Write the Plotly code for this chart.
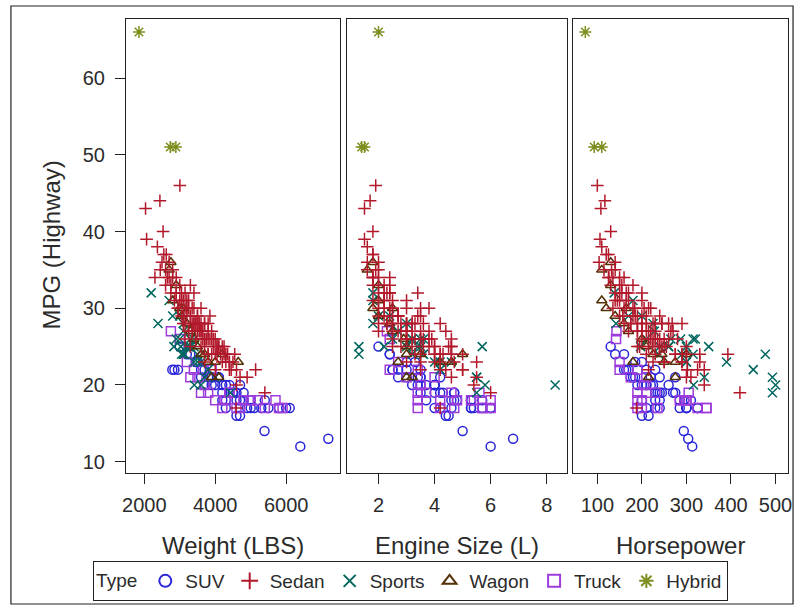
import plotly.graph_objects as go

# ---------------- data ----------------
types = ["SUV", "Sedan", "Sports", "Wagon", "Truck", "Hybrid"]

wt_suv = [3000, 3200, 2790, 2850, 2950, 3300, 3450, 3500, 3600, 3700, 3800, 3900, 3900, 4000, 4100, 4200, 4300,
          4400, 4500, 4300, 4600, 4700, 4800, 4600, 4700, 4900, 5000, 5100, 5300, 5400, 5500, 5800, 6000, 6100,
          5390, 7190, 6400, 4500, 4200, 4100, 3700, 4300, 4200, 4600, 3900, 4800, 5000, 4400, 3600, 4700]
eng_suv = [2.0, 2.4, 2.5, 2.5, 2.7, 2.4, 3.0, 3.3, 3.0, 3.5, 3.5, 3.5, 4.0, 3.2, 4.2, 4.0, 3.7,
           4.0, 4.7, 4.7, 4.6, 4.8, 5.3, 4.5, 4.4, 4.2, 4.6, 5.3, 5.4, 5.3, 5.7, 5.3, 6.0, 6.0,
           5.0, 6.8, 6.0, 4.2, 3.5, 3.4, 3.4, 4.0, 3.7, 4.3, 3.0, 4.7, 5.7, 3.5, 2.7, 4.0]
hp_suv = [130, 140, 160, 165, 170, 160, 185, 200, 210, 230, 220, 240, 200, 220, 275, 210, 210,
          245, 235, 230, 240, 285, 295, 200, 215, 230, 240, 285, 300, 295, 325, 300, 325, 300,
          294, 304, 313, 275, 240, 185, 190, 210, 200, 270, 175, 230, 310, 260, 180, 225]
mpg_suv = [25, 24, 22, 22, 22, 24, 23, 23, 22, 22, 21, 21, 20, 20, 21, 20, 20,
           19, 19, 18, 18, 18, 18, 16, 16, 17, 17, 17, 17, 18, 17, 17, 17, 17,
           14, 13, 12, 19, 19, 21, 20, 17, 18, 19, 21, 19, 18, 20, 21, 20]

wt_sedan = [3003, 2035, 2440, 2530, 2065, 2370, 2620, 2500, 2600, 2700, 2650, 2450, 2750, 2800, 2900, 2850,
            3000, 3050, 2950, 3100, 3150, 3200, 3250, 3200, 3300, 3350, 3400, 3400, 3450, 3500, 3550, 3600,
            3600, 3650, 3700, 3750, 3800, 3800, 3850, 3900, 3950, 4000, 4050, 4100, 4150, 4200, 4250, 4300,
            4350, 4400, 4450, 4500, 4600, 4700, 5140, 5400, 4590, 4000, 3600, 3700, 3100, 3150, 3250, 3350,
            3450, 3500, 3550, 3000, 2900, 2800, 3250, 3650, 3300, 3700, 3800, 3900, 3950, 4050, 4100, 3400,
            3500, 3200, 3300, 2950, 3100, 3350, 3600, 3700, 3800, 4300, 4400, 4000, 3600, 3250, 3150, 4550,
            4900, 4600, 2300, 2600, 2750, 3050, 3400, 3750, 4200, 3850,
            2550, 2700, 2900, 3150, 3300, 3450, 3550, 3700, 3900, 4050, 4250, 4400, 3050, 3350, 3500, 3800]
eng_sedan = [1.9, 1.5, 1.7, 1.8, 1.5, 1.6, 1.8, 1.6, 2.0, 2.0, 1.8, 1.6, 2.0, 2.4, 2.0, 2.2,
             2.4, 2.2, 2.0, 2.5, 2.4, 2.5, 3.0, 2.7, 2.4, 3.0, 3.4, 3.5, 3.0, 3.5, 3.3, 3.8,
             2.8, 3.0, 3.2, 3.5, 4.2, 3.8, 3.0, 4.4, 3.2, 4.6, 3.6, 4.0, 4.3, 4.5, 4.6, 5.0,
             4.2, 4.7, 5.0, 5.5, 4.2, 4.6, 5.0, 6.0, 4.2, 4.2, 3.0, 3.2, 2.0, 2.3, 2.5, 2.7,
             3.0, 3.2, 2.5, 2.0, 1.8, 1.9, 2.2, 3.5, 2.8, 4.0, 3.5, 3.3, 3.8, 4.0, 4.6, 2.0,
             2.2, 1.8, 1.8, 2.5, 2.3, 3.0, 3.5, 3.0, 4.6, 3.5, 4.4, 3.5, 2.5, 2.0, 2.5, 4.6,
             5.5, 5.4, 1.8, 2.2, 2.4, 2.7, 3.6, 3.9, 4.0, 3.4,
             1.8, 2.0, 2.3, 2.4, 2.7, 2.5, 3.0, 3.3, 3.6, 3.8, 4.0, 4.2, 2.2, 2.8, 3.0, 3.2]
hp_sedan = [100, 108, 117, 130, 106, 110, 120, 104, 132, 140, 126, 115, 130, 160, 140, 140,
            150, 155, 135, 165, 170, 180, 200, 185, 157, 220, 200, 215, 225, 240, 230, 205,
            190, 210, 245, 250, 260, 200, 225, 270, 215, 280, 255, 240, 290, 300, 239, 300,
            330, 290, 302, 330, 340, 300, 302, 420, 188, 393, 268, 290, 150, 160, 170, 190,
            200, 220, 175, 145, 150, 140, 165, 230, 195, 245, 210, 230, 260, 275, 224, 200,
            210, 170, 180, 184, 200, 230, 265, 225, 300, 250, 325, 215, 190, 215, 215, 290,
            310, 340, 125, 155, 165, 190, 245, 235, 250, 200,
            125, 135, 150, 160, 180, 175, 200, 220, 240, 250, 275, 290, 150, 190, 210, 230]
mpg_sedan = [46, 43, 44, 40, 39, 38, 37, 36, 35, 36, 34, 35, 33, 34, 32, 31,
             33, 32, 30, 31, 32, 30, 31, 29, 29, 30, 32, 30, 28, 29, 28, 30,
             27, 27, 28, 26, 28, 27, 26, 27, 25, 26, 25, 25, 24, 25, 25, 24,
             24, 23, 22, 23, 22, 21, 22, 19, 17, 24, 28, 28, 29, 28, 27, 27,
             26, 27, 28, 31, 34, 35, 30, 26, 25, 25, 24, 24, 26, 24, 25, 28,
             29, 31, 33, 30, 28, 27, 27, 23, 24, 23, 22, 22, 25, 27, 26, 24,
             21, 20, 34, 33, 32, 29, 28, 26, 23, 29,
             37, 34, 32, 30, 29, 28, 27, 26, 26, 25, 24, 23, 31, 28, 28, 26]

wt_sports = [2195, 2387, 2700, 2835, 3029, 3053, 3246, 3410, 3131, 3400, 3100, 3000, 3300, 3400, 3500,
             3600, 3800, 4429, 4000, 3500, 3100, 2800, 3000, 3300, 3200, 3600, 3700, 2900, 3100, 3400, 3300]
eng_sports = [1.8, 1.8, 1.8, 2.2, 1.3, 1.3, 5.7, 8.3, 3.6, 3.2, 2.7, 3.2, 3.5, 3.5, 3.6,
              4.2, 4.2, 5.5, 5.5, 4.6, 3.0, 2.0, 2.4, 3.0, 3.4, 5.8, 5.5, 2.5, 3.2, 4.0, 3.6]
hp_sports = [138, 142, 180, 240, 197, 238, 350, 500, 477, 265, 228, 315, 287, 300, 315,
             390, 450, 493, 493, 300, 225, 200, 170, 260, 260, 316, 340, 210, 290, 300, 320]
mpg_sports = [32, 28, 31, 25, 25, 24, 25, 20, 24, 26, 27, 26, 26, 25, 24,
              23, 22, 19, 21, 23, 28, 29, 29, 25, 25, 20, 21, 26, 24, 23, 26]

wt_wagon = [2700, 2750, 2800, 2900, 3000, 3050, 3100, 3200, 3300, 3400, 3500, 3600, 3700, 3800, 4000,
            4200, 4650, 3900, 4100]
eng_wagon = [1.6, 1.8, 2.0, 2.0, 1.8, 2.0, 2.5, 2.4, 2.5, 2.9, 3.0, 3.0, 3.5, 2.7, 4.2,
             5.0, 4.6, 3.2, 3.0]
hp_wagon = [110, 130, 110, 130, 120, 140, 165, 160, 170, 200, 210, 225, 245, 180, 250,
            300, 275, 215, 275]
mpg_wagon = [35, 36, 31, 33, 30, 29, 30, 28, 27, 26, 25, 24, 24, 23, 23,
             24, 23, 21, 21]

wt_truck = [2750, 3000, 3200, 3500, 3600, 3700, 3800, 4000, 4200, 4300, 4400, 4600, 4800, 5000, 5200,
            5400, 5700, 5900, 4700, 3900, 4400, 5800, 3300, 3400]
eng_truck = [2.3, 2.4, 2.7, 3.0, 3.4, 3.5, 3.7, 3.4, 3.4, 4.2, 4.6, 4.7, 4.8, 5.4, 5.3,
             5.7, 6.0, 6.0, 4.2, 3.4, 5.6, 5.7, 4.0, 2.4]
hp_truck = [143, 142, 150, 175, 190, 205, 210, 190, 190, 200, 230, 235, 285, 300, 295,
            345, 300, 325, 200, 190, 305, 345, 210, 150]
mpg_truck = [27, 26, 23, 21, 19, 20, 19, 18, 17, 18, 19, 17, 18, 18, 18,
             17, 18, 17, 17, 22, 19, 17, 21, 22]

wt_hybrid = [1850, 2732, 2890]
eng_hybrid = [2.0, 1.4, 1.5]
hp_hybrid = [73, 93, 110]
mpg_hybrid = [66, 51, 51]

x_titles = ["Weight (LBS)", "Engine Size (L)", "Horsepower"]
y_title = "MPG (Highway)"
x_ticks = [[2000, 4000, 6000], [2, 4, 6, 8], [100, 200, 300, 400, 500]]
y_ticks = [10, 20, 30, 40, 50, 60]

# ---------------- styling ----------------
W, H = 802, 608
FONT = "Liberation Sans, Arial, sans-serif"
TXT = "#2b2b2b"

series = {
    "SUV":    (wt_suv, eng_suv, hp_suv, mpg_suv, "circle-open", "#2A25D9"),
    "Sedan":  (wt_sedan, eng_sedan, hp_sedan, mpg_sedan, "cross-thin-open", "#B2182B"),
    "Sports": (wt_sports, eng_sports, hp_sports, mpg_sports, "x-thin-open", "#01665E"),
    "Wagon":  (wt_wagon, eng_wagon, hp_wagon, mpg_wagon, "triangle-up-open", "#543005"),
    "Truck":  (wt_truck, eng_truck, hp_truck, mpg_truck, "square-open", "#9D3CDB"),
    "Hybrid": (wt_hybrid, eng_hybrid, hp_hybrid, mpg_hybrid, "asterisk-open", "#7F8E1F"),
}
draw_order = ["SUV", "Truck", "Sports", "Wagon", "Sedan", "Hybrid"]

panels_px = [(123.3, 339.3), (346.0, 568.3), (575.0, 791.7)]
x_ranges = [[1486, 7517], [0.86, 8.71], [46, 527.5]]
y_range = [8.57, 67.69]
y_dom = [1 - 472.7 / H, 1 - 19 / H]

fig = go.Figure()

for p in range(3):
    xa = "x" if p == 0 else f"x{p+1}"
    ya = "y" if p == 0 else f"y{p+1}"
    for t in draw_order:
        wt, eng, hp, mpg, sym, col = series[t]
        xs = [wt, eng, hp][p]
        fig.add_trace(go.Scatter(
            x=xs, y=mpg, mode="markers", name=t,
            legendrank=types.index(t) + 1,
            showlegend=(p == 0),
            marker=dict(symbol=sym, size=9 if t != "Hybrid" else 10, color=col,
                        line=dict(color=col, width=1.5)),
            xaxis=xa, yaxis=ya, hoverinfo="skip"))

axis_common = dict(showline=True, linecolor="#222", linewidth=1.2, mirror=True,
                   showgrid=False, zeroline=False, ticks="outside", ticklen=10,
                   tickwidth=1.3, tickcolor="#222",
                   tickfont=dict(family=FONT, size=20, color=TXT))

layout = dict(width=W, height=H, margin=dict(l=0, r=0, t=0, b=0),
              paper_bgcolor="white", plot_bgcolor="white")
for p in range(3):
    xl, xr = panels_px[p]
    key = "xaxis" if p == 0 else f"xaxis{p+1}"
    ykey = "yaxis" if p == 0 else f"yaxis{p+1}"
    layout[key] = dict(axis_common, domain=[xl / W, xr / W], range=x_ranges[p],
                       tickvals=x_ticks[p], anchor="y" if p == 0 else f"y{p+1}",
                       ticklabelstandoff=4)
    ydict = dict(axis_common, domain=y_dom, range=y_range, tickvals=y_ticks,
                 anchor="x" if p == 0 else f"x{p+1}", ticklabelstandoff=6)
    if p > 0:
        ydict.update(showticklabels=False, ticks="", matches="y")
    layout[ykey] = ydict

fig.update_layout(**layout)

anns = []
for p in range(3):
    xl, xr = panels_px[p]
    anns.append(dict(text=x_titles[p], x=(xl + xr) / 2 / W, y=1 - 545 / H,
                     xref="paper", yref="paper", showarrow=False,
                     xanchor="center", yanchor="middle",
                     font=dict(family=FONT, size=24, color=TXT)))
anns.append(dict(text=y_title, x=47 / W, y=1 - 245 / H, xref="paper", yref="paper",
                 showarrow=False, textangle=-90, xanchor="center", yanchor="middle",
                 font=dict(family=FONT, size=24, color=TXT)))
fig.update_layout(annotations=anns)

fig.update_layout(
    legend=dict(orientation="h", x=90 / W, y=1 - 561 / H, xanchor="left", yanchor="top",
                bordercolor="#222", borderwidth=1, bgcolor="white",
                font=dict(family=FONT, size=19, color=TXT),
                title=dict(text="Type", side="left", font=dict(family=FONT, size=19, color=TXT)),
                itemsizing="constant", tracegroupgap=0),
    shapes=[dict(type="rect", xref="paper", yref="paper",
                 x0=7 / W, x1=797 / W, y0=1 - 604 / H, y1=1 - 6 / H,
                 line=dict(color="#222", width=1.2), fillcolor="rgba(0,0,0,0)", layer="below")]
)

fig.write_html("out.html", config={"displayModeBar": False},
               post_script="document.body.style.margin='0px';document.body.style.overflow='hidden';")
